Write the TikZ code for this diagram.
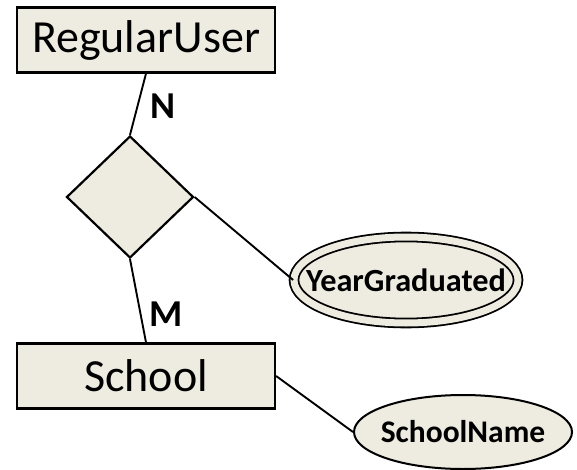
\documentclass[tikz,border=0pt]{standalone}
\usepackage{fontspec}
\setmainfont{Carlito}
\usetikzlibrary{shapes.geometric}
\definecolor{erfill}{HTML}{EEECE1}
\begin{document}
\begin{tikzpicture}[x=1pt, y=-1pt,
    entity/.style={rectangle, draw, line width=2.2pt, fill=erfill, inner sep=0pt, minimum width=258pt, minimum height=65pt, font=\fontsize{46}{50}\selectfont},
    relation/.style={diamond, draw, line width=2.2pt, fill=erfill, inner sep=0pt},
    attrib/.style={ellipse, draw, line width=2pt, fill=erfill, inner xsep=-80pt, inner ysep=-20pt, font=\bfseries\fontsize{31.5}{34}\selectfont},
    card/.style={font=\bfseries\fontsize{38}{40}\selectfont},
    link/.style={line width=1.9pt}]
    \useasboundingbox (0,0) rectangle (577,470);
    \node (user) [entity] at (146,40) {RegularUser};
    \node (graduated) [relation, minimum width=127pt, minimum height=122pt] at (130,197) {};
    \node (school) [entity] at (146,376) {School};
    \node (year) [attrib, double=erfill, double distance=7pt, line width=1.8pt, minimum width=224pt, minimum height=86pt, font=\bfseries\fontsize{32.3}{34}\selectfont] at (406,280) {YearGraduated};
    \node (name) [attrib, minimum width=218pt, minimum height=74pt] at (463,432) {SchoolName};
    \node (n) [card] at (163,106) {N};
    \node (m) [card] at (166,314) {M};

    \draw[link] (user.south) -- (graduated.north);
    \draw[link] (graduated.south) -- (school.north);
    \draw[link] (graduated.east) -- (year.west);
    \draw[link] (school.east) -- (name.west);
\end{tikzpicture}
\end{document}
